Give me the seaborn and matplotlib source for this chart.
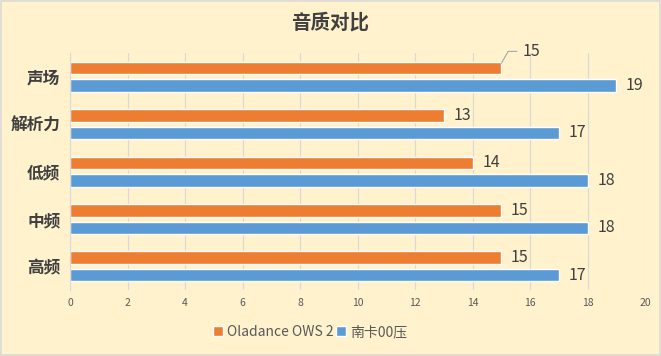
import matplotlib

matplotlib.use("Agg")
import matplotlib.pyplot as plt
import pandas as pd
import seaborn as sns

categories = ["声场", "解析力", "低频", "中频", "高频"]
series_names = ["Oladance OWS 2", "南卡00压"]
oladance_scores = [15, 13, 14, 15, 15]
nanka_scores = [19, 17, 18, 18, 17]
x_ticks = list(range(0, 21, 2))

_BG = "#FFF2CC"
_COLORS = ["#ED7D31", "#5B9BD5"]

sns.set_theme(style="white")
plt.rcParams["font.family"] = ["Noto Sans CJK SC", "DejaVu Sans"]

data = pd.DataFrame(
    {
        "category": categories * 2,
        "score": oladance_scores + nanka_scores,
        "series": [series_names[0]] * len(categories) + [series_names[1]] * len(categories),
    }
)

fig = plt.figure(figsize=(6.61, 3.56), dpi=100, facecolor=_BG)
axis = fig.add_axes([0.106, 0.185, 0.870, 0.666])
axis.set_facecolor(_BG)

sns.barplot(
    data=data,
    y="category",
    x="score",
    hue="series",
    order=categories,
    hue_order=series_names,
    palette=_COLORS,
    orient="h",
    width=0.74,
    saturation=1,
    errorbar=None,
    ax=axis,
)

# thinner bars with a small gap between the pair
for patch in axis.patches:
    h = patch.get_height()
    if h <= 0:
        continue
    y0 = patch.get_y()
    new_h = 0.265
    patch.set_y(y0 + (h - new_h) / 2)
    patch.set_height(new_h)

axis.set_xlim(0, 20)
axis.set_ylim(4.5, -0.5)
axis.set_xticks(x_ticks)
axis.set_xticklabels([str(t) for t in x_ticks], fontsize=7.5, color="#595959")
axis.tick_params(axis="x", length=0, pad=6)
axis.tick_params(axis="y", length=0, pad=7)
axis.set_yticks(range(len(categories)))
axis.set_yticklabels(categories, fontsize=12, color="#404040", fontweight="bold")
axis.set_xlabel("")
axis.set_ylabel("")
axis.grid(axis="x", color="#D9D9D9", linewidth=0.8)
axis.set_axisbelow(True)
for side in ["top", "right", "bottom"]:
    axis.spines[side].set_visible(False)
axis.spines["left"].set_color("#D9D9D9")
axis.spines["left"].set_linewidth(0.8)

# data labels
bar_patches = [p for p in axis.patches if p.get_height() > 0]
for patch in bar_patches:
    value = patch.get_width()
    y_center = patch.get_y() + patch.get_height() / 2
    if value == oladance_scores[0] and abs(y_center - (-0.185)) < 0.05:
        # the first label sits above its bar with a leader line
        axis.annotate(
            str(int(value)),
            xy=(value, y_center - 0.1),
            xytext=(value + 0.75, y_center - 0.35),
            fontsize=11.5,
            color="#404040",
            va="center",
            ha="left",
            arrowprops=dict(arrowstyle="-", color="#A6A6A6", linewidth=0.8,
                            connectionstyle="angle,angleA=0,angleB=60,rad=0",
                            shrinkA=2, shrinkB=0),
        )
        continue
    axis.annotate(
        str(int(value)),
        xy=(value, y_center),
        xytext=(7, 0),
        textcoords="offset points",
        fontsize=11.5,
        color="#404040",
        va="center",
        ha="left",
    )

legend = axis.legend(
    loc="center",
    bbox_to_anchor=(0.469, 0.067),
    bbox_transform=fig.transFigure,
    ncol=2,
    frameon=False,
    fontsize=10,
    handlelength=0.7,
    handleheight=0.7,
    handletextpad=0.3,
    columnspacing=0.2,
    labelcolor="#595959",
)

fig.text(0.5, 0.937, "音质对比", ha="center", va="center",
         fontsize=14, fontweight="bold", color="#404040")

border = plt.Rectangle((0.002, 0.003), 0.996, 0.994, transform=fig.transFigure,
                       fill=False, edgecolor="#D9D9D9", linewidth=1.2)
fig.patches.append(border)

fig.savefig("out.png", dpi=100, facecolor=_BG)
plt.close(fig)
